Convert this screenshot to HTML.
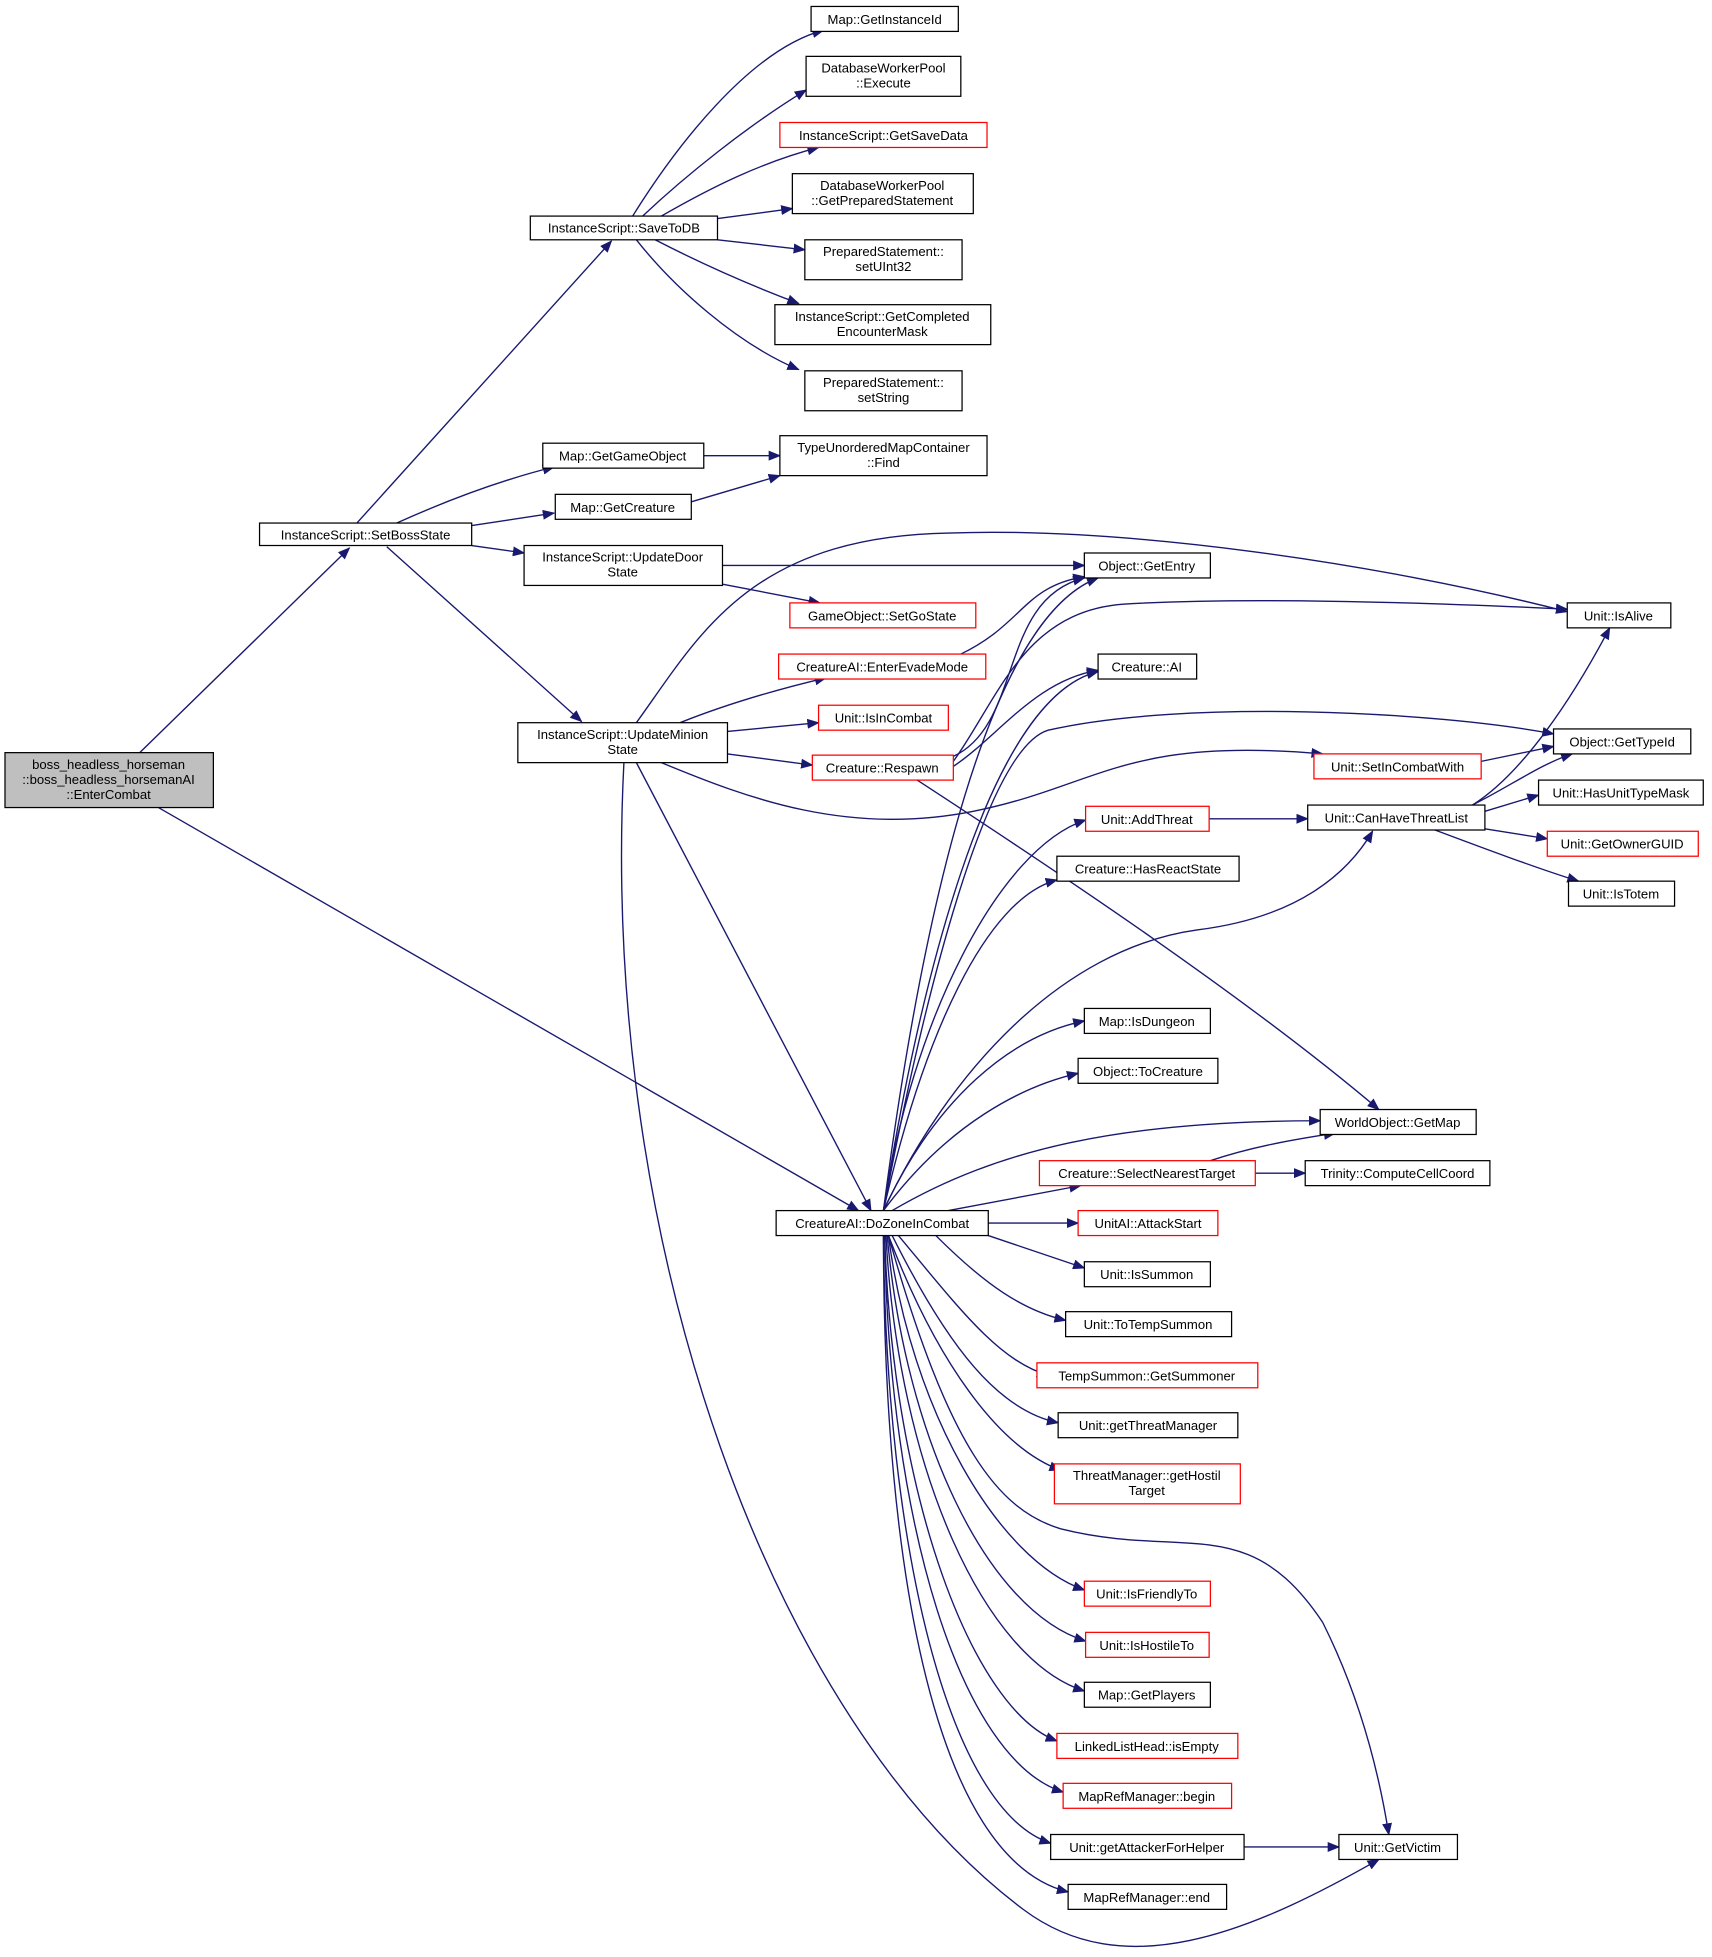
<!DOCTYPE html>
<html><head><meta charset="utf-8"><style>
html,body{margin:0;padding:0;background:#fff}
svg{display:block}
text{font-family:"Liberation Sans","DejaVu Sans",sans-serif;font-size:10.5px;fill:#000;text-anchor:middle}
.n{fill:#fff;stroke:#000;stroke-width:1}
.r{fill:#fff;stroke:#ff0000;stroke-width:1}
.e{fill:none;stroke:#191970;stroke-width:1.1}
</style></head><body>
<svg width="1712" height="1957" viewBox="0 0 1372 1568" xmlns="http://www.w3.org/2000/svg">
<defs><marker id="a" markerWidth="10" markerHeight="8" refX="9" refY="4" orient="auto" markerUnits="userSpaceOnUse"><path d="M0,0 L10,4 L0,8 z" fill="#191970"/></marker></defs>
<g marker-end="url(#a)">
<path class="e" d="M112 603 L280 439"/>
<path class="e" d="M127 647 L688 970"/>
<path class="e" d="M286 419 L490 193"/>
<path class="e" d="M318 419 C360 400 400 385 444 374"/>
<path class="e" d="M378 421 L444 411"/>
<path class="e" d="M378 437 L420 443"/>
<path class="e" d="M310 438 L466 578"/>
<path class="e" d="M507 173 C540 120 600 40 660 24"/>
<path class="e" d="M515 173 C550 140 600 100 646 72"/>
<path class="e" d="M530 173 C570 150 610 130 656 118"/>
<path class="e" d="M575 175 L635 167"/>
<path class="e" d="M575 192 L645 200"/>
<path class="e" d="M525 192 C560 210 600 228 640 243"/>
<path class="e" d="M510 192 C540 230 590 275 640 296"/>
<path class="e" d="M564 365 L625 365"/>
<path class="e" d="M554 402 L625 381"/>
<path class="e" d="M579 453 L869 453"/>
<path class="e" d="M579 468 L657 483"/>
<path class="e" d="M510 579 C560 510 600 430 760 427 C900 422 1100 450 1256 490"/>
<path class="e" d="M545 579 C580 565 620 553 662 543"/>
<path class="e" d="M583 586 L656 579"/>
<path class="e" d="M583 604 L651 613"/>
<path class="e" d="M530 611 C600 640 680 670 780 650 C880 630 900 590 1060 604"/>
<path class="e" d="M510 611 L698 970"/>
<path class="e" d="M500 611 C480 1000 620 1380 820 1530 C900 1590 1000 1550 1105 1490"/>
<path class="e" d="M770 524 C820 500 820 470 869 462"/>
<path class="e" d="M764 606 C820 580 800 480 869 463"/>
<path class="e" d="M764 610 C800 560 820 490 900 484 C1000 478 1150 483 1256 488"/>
<path class="e" d="M764 614 C800 590 830 545 880 537"/>
<path class="e" d="M735 625 C850 700 1000 800 1105 889"/>
<path class="e" d="M1187 610 L1245 598"/>
<path class="e" d="M1180 645 C1220 620 1260 560 1290 503"/>
<path class="e" d="M1180 645 C1210 630 1235 612 1260 604"/>
<path class="e" d="M1190 650 L1233 637"/>
<path class="e" d="M1190 664 L1240 672"/>
<path class="e" d="M1150 665 C1190 680 1230 695 1265 706"/>
<path class="e" d="M969 656 L1048 656"/>
<path class="e" d="M1006 940 L1046 940"/>
<path class="e" d="M970 930 C1000 920 1030 914 1070 908"/>
<path class="e" d="M708 970 C730 800 780 500 880 463"/>
<path class="e" d="M708 970 C735 800 790 560 880 538"/>
<path class="e" d="M708 970 C740 800 790 600 840 585 C950 560 1150 570 1245 588"/>
<path class="e" d="M708 970 C730 820 800 680 870 657"/>
<path class="e" d="M708 970 C760 860 850 760 960 745 C1040 735 1080 700 1100 666"/>
<path class="e" d="M708 970 C740 830 790 720 847 705"/>
<path class="e" d="M708 970 C750 880 810 830 869 818"/>
<path class="e" d="M708 970 C760 900 820 870 864 860"/>
<path class="e" d="M715 970 C800 920 900 898 1058 898"/>
<path class="e" d="M760 970 L866 950"/>
<path class="e" d="M792 980 L864 980"/>
<path class="e" d="M792 990 L869 1016"/>
<path class="e" d="M750 990 C790 1030 820 1050 854 1058"/>
<path class="e" d="M720 990 C770 1050 800 1090 840 1102"/>
<path class="e" d="M715 990 C760 1080 800 1130 848 1140"/>
<path class="e" d="M712 990 C750 1090 800 1160 850 1178"/>
<path class="e" d="M712 990 C730 1130 800 1250 869 1274"/>
<path class="e" d="M711 990 C725 1150 790 1290 870 1315"/>
<path class="e" d="M710 990 C720 1180 790 1330 869 1355"/>
<path class="e" d="M709 990 C715 1200 780 1370 847 1395"/>
<path class="e" d="M709 990 C712 1220 770 1410 852 1436"/>
<path class="e" d="M708 990 C710 1240 760 1450 842 1477"/>
<path class="e" d="M708 990 C708 1260 750 1490 856 1516"/>
<path class="e" d="M712 990 C760 1160 800 1210 850 1225 C950 1250 1000 1210 1060 1300 C1090 1360 1105 1420 1113 1470"/>
<path class="e" d="M997 1480 L1073 1480"/>
</g>
<g>
<rect x="4" y="603" width="167" height="44" fill="#bfbfbf" stroke="#000"/>
<text x="87" y="616">boss_headless_horseman</text><text x="87" y="628">::boss_headless_horsemanAI</text><text x="87" y="640">::EnterCombat</text>
<rect class="n" x="208" y="419" width="170" height="18"/><text x="293" y="432">InstanceScript::SetBossState</text>
<rect class="n" x="425" y="173" width="150" height="19"/><text x="500" y="186">InstanceScript::SaveToDB</text>
<rect class="n" x="650" y="5" width="118" height="20"/><text x="709" y="19">Map::GetInstanceId</text>
<rect class="n" x="646" y="45" width="124" height="32"/><text x="708" y="58">DatabaseWorkerPool</text><text x="708" y="70">::Execute</text>
<rect class="r" x="625" y="98" width="166" height="20"/><text x="708" y="112">InstanceScript::GetSaveData</text>
<rect class="n" x="635" y="139" width="145" height="32"/><text x="707" y="152">DatabaseWorkerPool</text><text x="707" y="164">::GetPreparedStatement</text>
<rect class="n" x="645" y="192" width="126" height="32"/><text x="708" y="205">PreparedStatement::</text><text x="708" y="217">setUInt32</text>
<rect class="n" x="621" y="244" width="173" height="32"/><text x="707" y="257">InstanceScript::GetCompleted</text><text x="707" y="269">EncounterMask</text>
<rect class="n" x="645" y="297" width="126" height="32"/><text x="708" y="310">PreparedStatement::</text><text x="708" y="322">setString</text>
<rect class="n" x="435" y="355" width="129" height="20"/><text x="499" y="369">Map::GetGameObject</text>
<rect class="n" x="625" y="349" width="166" height="32"/><text x="708" y="362">TypeUnorderedMapContainer</text><text x="708" y="374">::Find</text>
<rect class="n" x="445" y="396" width="109" height="20"/><text x="499" y="410">Map::GetCreature</text>
<rect class="n" x="420" y="437" width="159" height="32"/><text x="499" y="450">InstanceScript::UpdateDoor</text><text x="499" y="462">State</text>
<rect class="n" x="869" y="443" width="101" height="20"/><text x="919" y="457">Object::GetEntry</text>
<rect class="r" x="633" y="483" width="149" height="20"/><text x="707" y="497">GameObject::SetGoState</text>
<rect class="n" x="1256" y="483" width="83" height="20"/><text x="1297" y="497">Unit::IsAlive</text>
<rect class="r" x="624" y="524" width="166" height="20"/><text x="707" y="538">CreatureAI::EnterEvadeMode</text>
<rect class="n" x="880" y="524" width="79" height="20"/><text x="919" y="538">Creature::AI</text>
<rect class="r" x="656" y="565" width="104" height="20"/><text x="708" y="579">Unit::IsInCombat</text>
<rect class="n" x="415" y="579" width="168" height="32"/><text x="499" y="592">InstanceScript::UpdateMinion</text><text x="499" y="604">State</text>
<rect class="r" x="651" y="605" width="113" height="20"/><text x="707" y="619">Creature::Respawn</text>
<rect class="r" x="1053" y="604" width="134" height="20"/><text x="1120" y="618">Unit::SetInCombatWith</text>
<rect class="n" x="1245" y="584" width="110" height="20"/><text x="1300" y="598">Object::GetTypeId</text>
<rect class="n" x="1233" y="625" width="132" height="20"/><text x="1299" y="639">Unit::HasUnitTypeMask</text>
<rect class="r" x="870" y="646" width="99" height="20"/><text x="919" y="660">Unit::AddThreat</text>
<rect class="n" x="1048" y="645" width="142" height="20"/><text x="1119" y="659">Unit::CanHaveThreatList</text>
<rect class="r" x="1240" y="666" width="121" height="20"/><text x="1300" y="680">Unit::GetOwnerGUID</text>
<rect class="n" x="847" y="686" width="146" height="20"/><text x="920" y="700">Creature::HasReactState</text>
<rect class="n" x="1257" y="706" width="85" height="20"/><text x="1299" y="720">Unit::IsTotem</text>
<rect class="n" x="869" y="808" width="101" height="20"/><text x="919" y="822">Map::IsDungeon</text>
<rect class="n" x="864" y="848" width="112" height="20"/><text x="920" y="862">Object::ToCreature</text>
<rect class="n" x="1058" y="889" width="125" height="20"/><text x="1120" y="903">WorldObject::GetMap</text>
<rect class="r" x="833" y="930" width="173" height="20"/><text x="919" y="944">Creature::SelectNearestTarget</text>
<rect class="n" x="1046" y="930" width="148" height="20"/><text x="1120" y="944">Trinity::ComputeCellCoord</text>
<rect class="n" x="622" y="970" width="170" height="20"/><text x="707" y="984">CreatureAI::DoZoneInCombat</text>
<rect class="r" x="864" y="970" width="112" height="20"/><text x="920" y="984">UnitAI::AttackStart</text>
<rect class="n" x="869" y="1011" width="101" height="20"/><text x="919" y="1025">Unit::IsSummon</text>
<rect class="n" x="854" y="1051" width="133" height="20"/><text x="920" y="1065">Unit::ToTempSummon</text>
<rect class="r" x="831" y="1092" width="177" height="20"/><text x="919" y="1106">TempSummon::GetSummoner</text>
<rect class="n" x="848" y="1132" width="144" height="20"/><text x="920" y="1146">Unit::getThreatManager</text>
<rect class="r" x="845" y="1173" width="149" height="32"/><text x="919" y="1186">ThreatManager::getHostil</text><text x="919" y="1198">Target</text>
<rect class="r" x="869" y="1267" width="101" height="20"/><text x="919" y="1281">Unit::IsFriendlyTo</text>
<rect class="r" x="870" y="1308" width="99" height="20"/><text x="919" y="1322">Unit::IsHostileTo</text>
<rect class="n" x="869" y="1348" width="101" height="20"/><text x="919" y="1362">Map::GetPlayers</text>
<rect class="r" x="847" y="1389" width="145" height="20"/><text x="919" y="1403">LinkedListHead::isEmpty</text>
<rect class="r" x="852" y="1429" width="135" height="20"/><text x="919" y="1443">MapRefManager::begin</text>
<rect class="n" x="842" y="1470" width="155" height="20"/><text x="919" y="1484">Unit::getAttackerForHelper</text>
<rect class="n" x="1073" y="1470" width="95" height="20"/><text x="1120" y="1484">Unit::GetVictim</text>
<rect class="n" x="856" y="1510" width="127" height="20"/><text x="919" y="1524">MapRefManager::end</text>
</g>
</svg>
</body></html>
